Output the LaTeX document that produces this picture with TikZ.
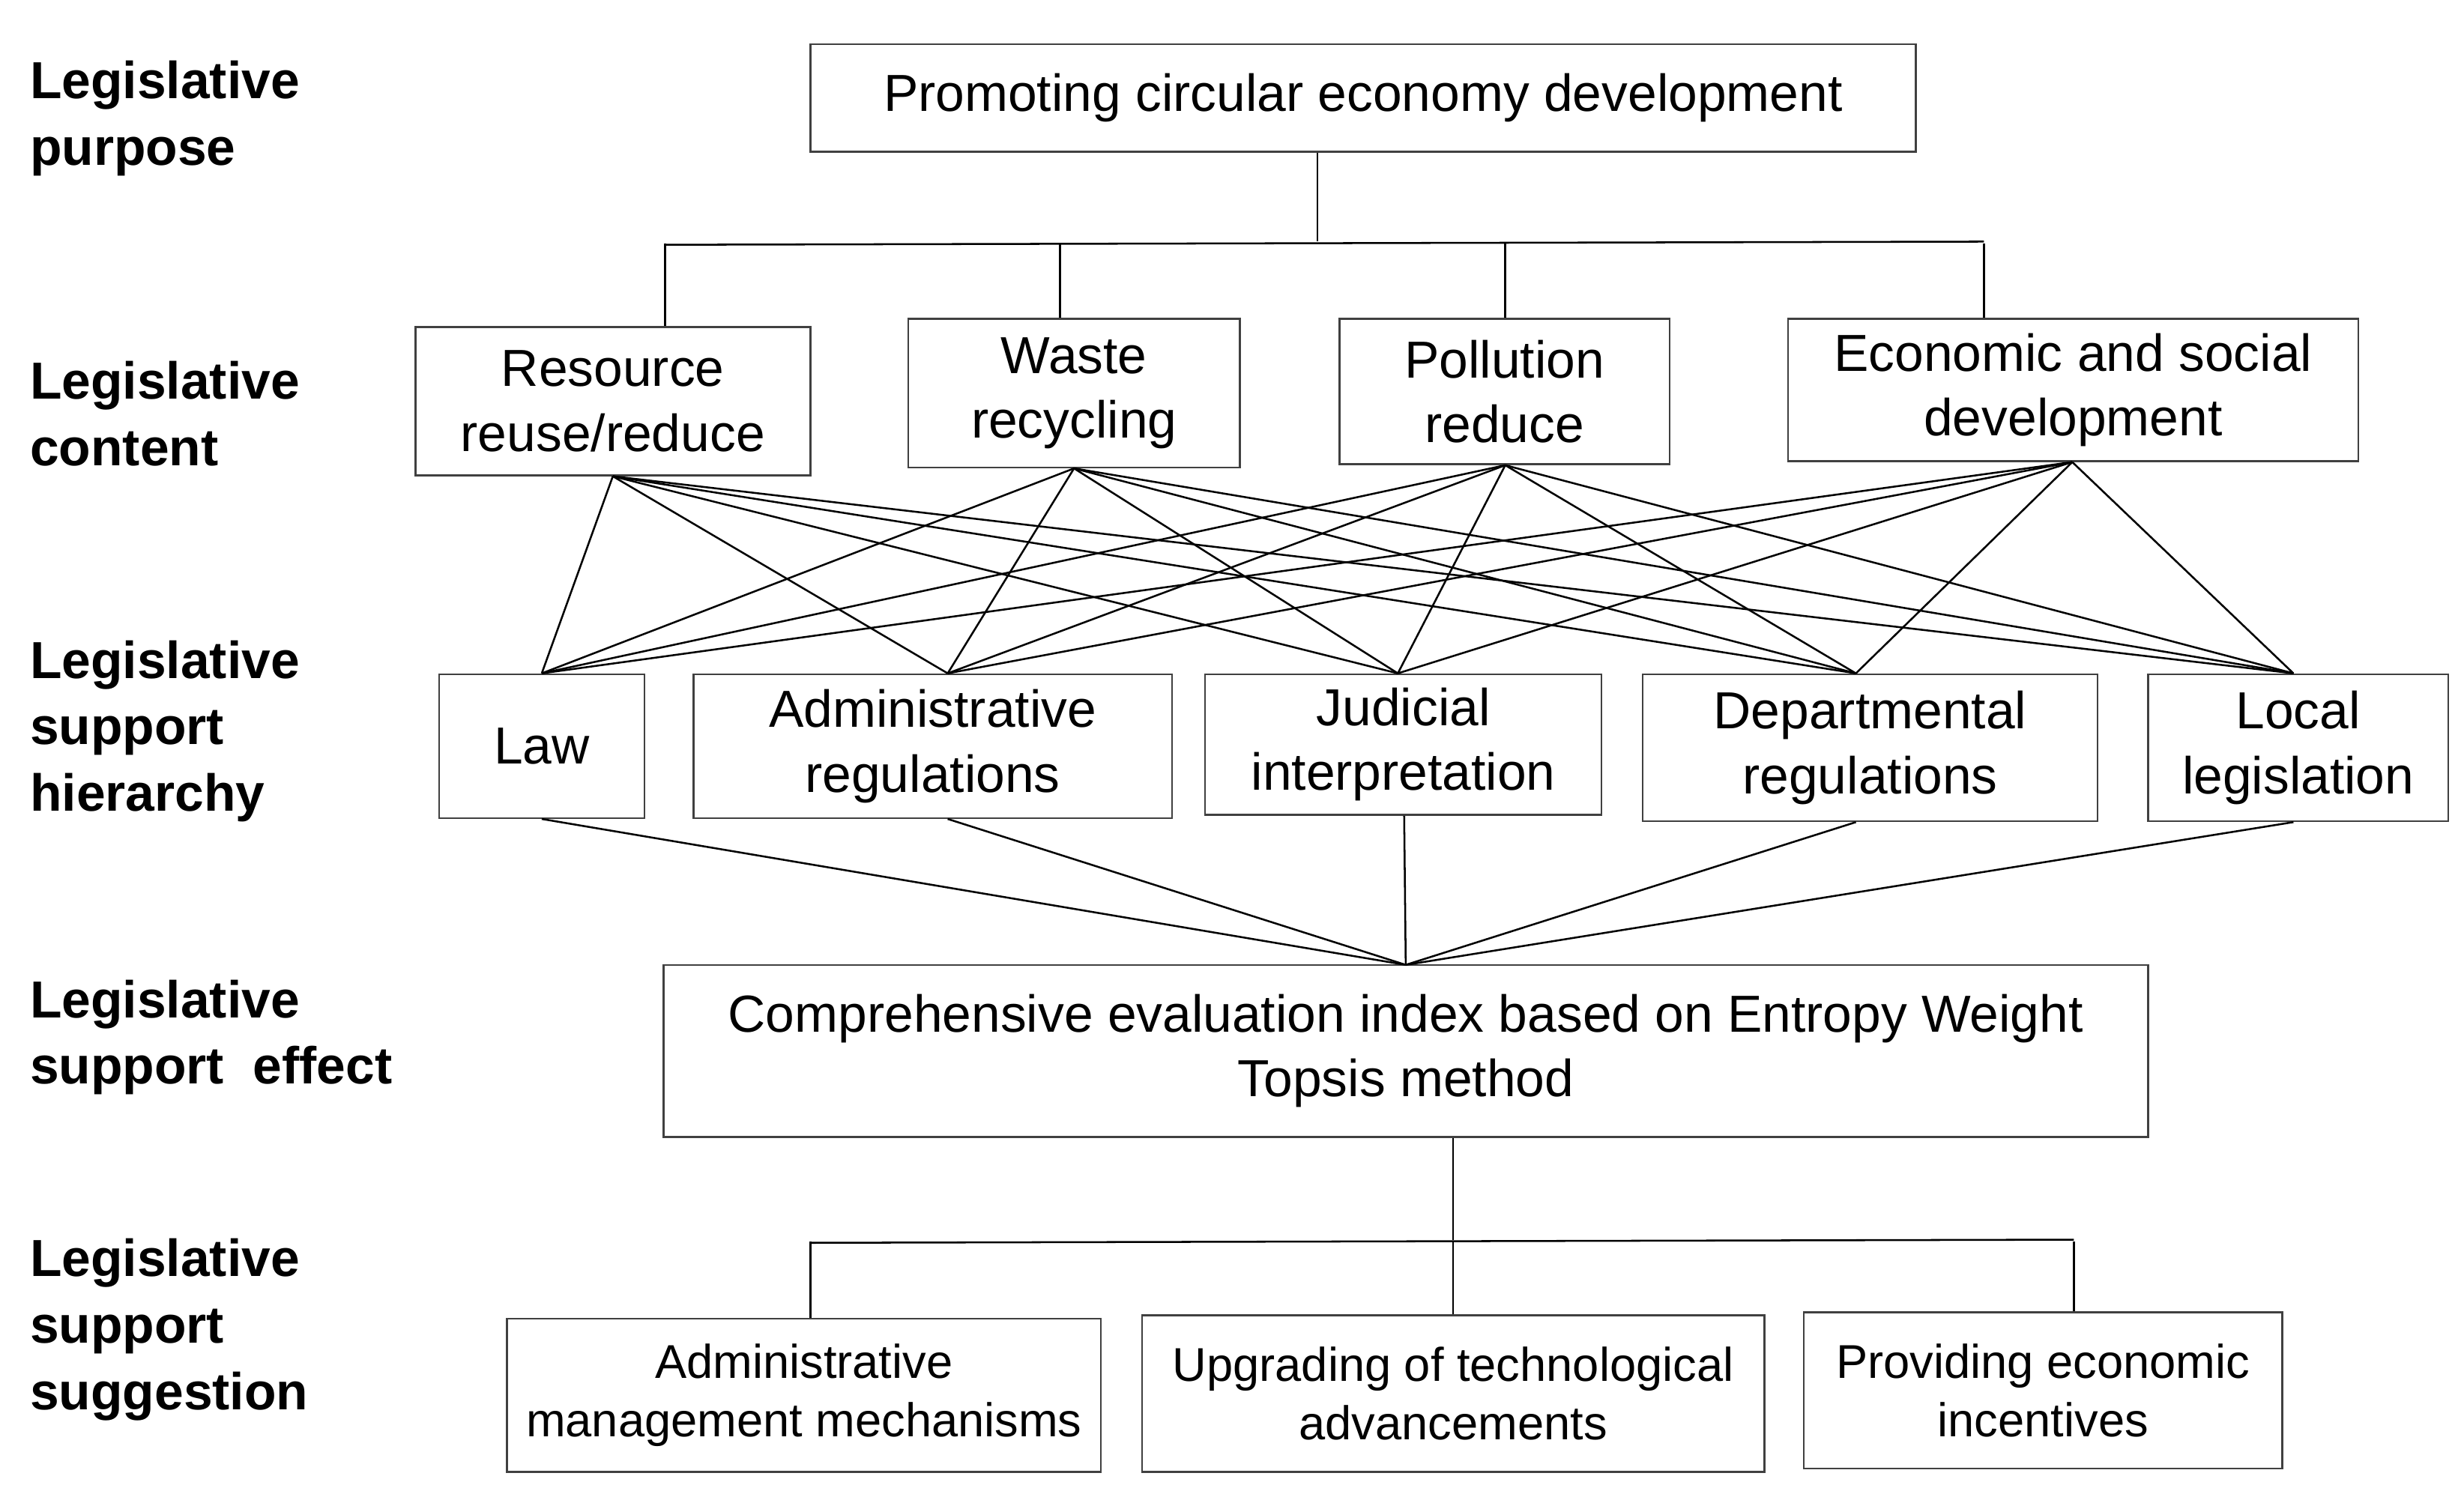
\documentclass[tikz,border=0pt]{standalone}
\usepackage{fontspec}
\setmainfont{Liberation Sans}
\begin{document}
\begin{tikzpicture}[x=0.5pt,y=-0.5pt,
  box/.style={draw=black!75,line width=0.6pt,inner sep=0pt,align=center,font=\fontsize{16.5}{20.5}\selectfont},
  sbox/.style={box,font=\fontsize{15}{18.5}\selectfont},
  lab/.style={anchor=west,align=left,font=\fontsize{16.5}{21}\selectfont\bfseries},
  ln/.style={line width=0.6pt}]
\useasboundingbox (0,0) rectangle (1560,946);
\node[box,minimum width=700pt*0.5,minimum height=68pt*0.5] (top) at (863,62) {Promoting circular economy development};
\node[box,minimum width=125pt,minimum height=47pt] (c1) at (388,254) {Resource\\reuse/reduce};
\node[box,minimum width=105pt,minimum height=47pt] (c2) at (680,249) {Waste\\recycling};
\node[box,minimum width=104.5pt,minimum height=46pt] (c3) at (952.5,248) {Pollution\\reduce};
\node[box,minimum width=180.5pt,minimum height=45pt] (c4) at (1312.5,247) {Economic and social\\development};
\node[box,minimum width=65pt,minimum height=45.5pt] (h1) at (343,472.5) {Law};
\node[box,minimum width=151.5pt,minimum height=45.5pt] (h2) at (590.5,472.5) {Administrative\\regulations};
\node[box,minimum width=125.5pt,minimum height=44.5pt] (h3) at (888.5,471.5) {Judicial\\interpretation};
\node[box,minimum width=144pt,minimum height=46.5pt] (h4) at (1184,473.5) {Departmental\\regulations};
\node[box,minimum width=95pt,minimum height=46.5pt] (h5) at (1455,473.5) {Local\\legislation};
\node[box,minimum width=470pt,minimum height=54.5pt] (ef) at (890,665.5) {Comprehensive evaluation index based on Entropy Weight\\Topsis method};
\node[sbox,minimum width=188pt,minimum height=48.5pt] (s1) at (509,883.5) {Administrative\\management mechanisms};
\node[sbox,minimum width=197pt,minimum height=49.5pt] (s2) at (920,882.5) {Upgrading of technological\\advancements};
\node[sbox,minimum width=151.5pt,minimum height=49.5pt] (s3) at (1293.5,880.5) {Providing economic\\incentives};
% labels
\node[lab] (l1) at (12,75) {Legislative\\purpose};
\node[lab] (l2) at (12,262) {Legislative\\content};
\node[lab] (l3) at (12,463) {Legislative\\support\\hierarchy};
\node[lab] (l4) at (12,657) {Legislative\\support~~effect};
\node[lab] (l5) at (12,842) {Legislative\\support\\suggestion};
% top tree
\coordinate (b0) at (834,153);
\draw[ln] (top.south -| b0) -- (b0);
\draw[ln] (421,155) coordinate (a1) -- (1256,153) coordinate (a4);
\foreach \c/\x in {c1/421,c2/671,c3/953,c4/1256}{\draw[ln] (\x,154) -- (\x,0 |- \c.north);}
% bipartite
\foreach \c/\cx in {c1/388,c2/680,c3/953,c4/1312}{
  \foreach \h/\hx in {h1/343,h2/600,h3/885,h4/1175,h5/1452}{
    \draw[ln] (\cx,0 |- \c.south) -- (\hx,0 |- \h.north);}}
% to effect
\coordinate (ep) at (890,611);
\foreach \h/\hx in {h1/343,h2/600,h3/889,h4/1175,h5/1452}{\draw[ln] (\hx,0 |- \h.south) -- (ep);}
% bottom tree
\draw[ln] (920,0 |- ef.south) -- (920,785);
\draw[ln] (513,787) -- (1313,785);
\foreach \s/\x in {s1/513,s2/920,s3/1313}{\draw[ln] (\x,786) -- (\x,0 |- \s.north);}
\end{tikzpicture}
\end{document}
